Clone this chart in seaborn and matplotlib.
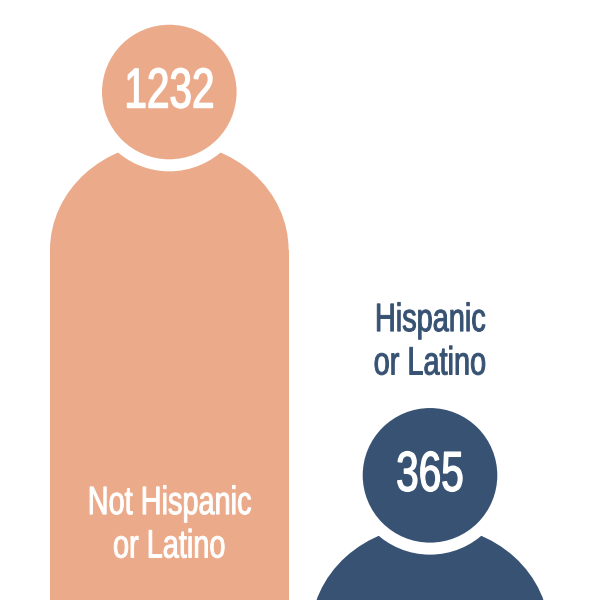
#!/usr/bin/env python3

import matplotlib
matplotlib.use("Agg")
import matplotlib.pyplot as plt
import matplotlib.patheffects as pe
from matplotlib.patches import Ellipse
from matplotlib.transforms import Affine2D
import pandas as pd
import seaborn as sns

categories = ["Not Hispanic\nor Latino", "Hispanic\nor Latino"]
counts = [1232, 365]
colors = ["#EBAB8B", "#375273"]

sns.set_theme(style="white")
plt.rcParams['font.family'] = ['Liberation Sans Narrow', 'Liberation Sans', 'DejaVu Sans']

# the picture is laid out in pixels, one person per category
PX_PER_UNIT = 0.4421
PX_PER_CAT = 260.7
BASE_PX = 569.4
HEAD_R = 67.3
RING = 12.0
DOME_A = 119.3
DOME_B = 108.0
DOME_DROP = 225.3  # head top down to the centre of the shoulders


class Condensed(pe.AbstractPathEffect):
    # the installed narrow font is wider and lighter than the original one
    def __init__(self, sx, lw):
        super().__init__()
        self.sx = sx
        self.lw = lw

    def draw_path(self, renderer, gc, tpath, affine, rgbFace=None):
        box = tpath.get_extents()
        cx = (box.x0 + box.x1) / 2
        squeeze = Affine2D().translate(-cx, 0).scale(self.sx, 1).translate(cx, 0)
        gc0 = renderer.new_gc()
        gc0.copy_properties(gc)
        gc0.set_linewidth(self.lw)
        gc0.set_foreground(rgbFace)
        renderer.draw_path(gc0, tpath, squeeze + affine, rgbFace)
        gc0.restore()


def to_y(px):
    return (BASE_PX - px) / PX_PER_UNIT


df = pd.DataFrame({"group": categories, "count": counts})

fig = plt.figure(figsize=(6, 6), dpi=100)
ax = fig.add_axes([0, 0, 1, 1])
sns.barplot(data=df, x="group", y="count", hue="group", palette=colors,
            width=2 * DOME_A / PX_PER_CAT, legend=False, saturation=1, ax=ax)
ax.set_xlim(-169.3 / PX_PER_CAT, (600 - 169.3) / PX_PER_CAT)
ax.set_ylim(to_y(600), to_y(0))
ax.axis("off")

# bodies: bar runs off the bottom and ends in a dome under the head
for i, (bar, n) in enumerate(zip(ax.patches, counts)):
    shoulder = n - DOME_DROP / PX_PER_UNIT
    bar.set_y(to_y(600))
    bar.set_height(shoulder - to_y(600))
    bar.set_linewidth(0)
    ax.add_patch(Ellipse((i, shoulder), 2 * DOME_A / PX_PER_CAT, 2 * DOME_B / PX_PER_UNIT,
                         facecolor=colors[i], edgecolor="none", zorder=3))

# heads: white edge cuts the gap out of the shoulders
heads = pd.DataFrame({"x": [0, 1], "y": [n - HEAD_R / PX_PER_UNIT for n in counts], "group": categories})
size_pt = (2 * HEAD_R + RING) * 0.72
sns.scatterplot(data=heads, x="x", y="y", hue="group", palette=colors, s=size_pt ** 2,
                edgecolor="white", linewidth=RING * 0.72, legend=False, zorder=4, clip_on=False, ax=ax)
ax.set_axis_off()

for i, n in enumerate(counts):
    ax.text(i, n - (HEAD_R + 1.5) / PX_PER_UNIT, str(n), color="white", fontsize=40.5,
            ha="center", va="center", zorder=5, path_effects=[Condensed(0.72, 1.0)])

ax.text(0, to_y(557.5), categories[0], color="white", fontsize=28.5, ha="center", va="baseline",
        linespacing=1.18, multialignment="center", zorder=5, path_effects=[Condensed(0.73, 0.7)])
ax.text(1, to_y(374.5), categories[1], color=colors[1], fontsize=28.5, ha="center", va="baseline",
        linespacing=1.18, multialignment="center", zorder=5, path_effects=[Condensed(0.73, 0.7)])

fig.savefig("out.png", dpi=100)
plt.close(fig)
